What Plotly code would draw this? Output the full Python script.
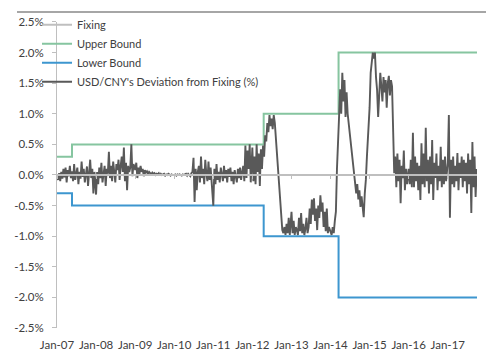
import pandas as pd
import plotly.graph_objects as go

# ---------------- data ----------------
dev_2007 = [-0.02, -0.08, 0.03, -0.10, 0.05, -0.06, 0.10, -0.04, 0.12, -0.12, 0.08, -0.02, 0.15, -0.05, 0.06, -0.10, 0.18, -0.08,
            0.02, 0.12, -0.15, 0.05, -0.06, 0.22, -0.03, 0.10, -0.12, 0.04, 0.14, -0.18, 0.08, 0.25, -0.05, 0.10, -0.30, 0.05]
dev_2008 = [-0.32, 0.05, -0.15, 0.12, -0.05, 0.20, -0.12, 0.08, 0.15, -0.18, 0.10, 0.02, 0.38, -0.05, 0.15, -0.10, 0.22, 0.05,
            -0.12, 0.18, 0.08, 0.25, -0.08, 0.15, 0.30, 0.05, 0.45, -0.10, 0.20, -0.25, 0.15, 0.05, 0.12, 0.50, -0.02, 0.18]
dev_2009 = [0.08, 0.20, -0.05, 0.12, 0.02, 0.15, 0.05, 0.10, -0.02, 0.08, 0.04, 0.06, 0.02, 0.05, 0.03, 0.01, 0.04, 0.02,
            0.03, 0.00, 0.02, 0.01, 0.03, -0.01, 0.02, 0.00, 0.01, 0.02, -0.01, 0.01, 0.00, 0.02, 0.01, -0.01, 0.01, 0.00]
dev_2010 = [0.00, 0.01, -0.01, 0.01, 0.00, 0.01, 0.00, -0.01, 0.01, 0.00, 0.01, 0.02, -0.01, 0.02, 0.00, -0.02, 0.03, 0.05,
            0.28, -0.44, 0.10, -0.25, 0.05, 0.15, -0.12, 0.30, -0.05, 0.10, -0.15, 0.25, 0.02, -0.10, 0.22, -0.08, 0.12, -0.20]
dev_2011 = [-0.50, 0.10, -0.15, 0.18, -0.08, 0.05, -0.12, 0.12, 0.02, -0.10, 0.15, -0.05, 0.08, -0.12, 0.10, -0.03, 0.12, -0.10,
            0.05, -0.15, 0.08, 0.00, -0.12, 0.10, -0.05, 0.12, -0.08, 0.05, 0.15, -0.10, 0.48, -0.05, 0.40, 0.10, 0.50, -0.12]
dev_2012 = [0.45, -0.10, 0.30, -0.15, 0.50, 0.05, 0.35, -0.18, 0.42, 0.10, 0.48,
            0.30, 0.65, 0.55, 0.85, 0.70, 0.98, 0.80, 0.92, 0.75, 0.98, 0.85, 0.60,
            0.35, 0.10, -0.20, -0.45, -0.70, -0.90, -0.95, -0.85, -0.98, -0.80, -0.95, -0.70, -0.98]
dev_2013 = [-0.60, -0.95, -0.75, -0.98, -0.85, -0.90, -0.98, -0.70, -0.92, -0.62, -0.95, -0.80, -0.98, -0.88, -0.70, -0.95, -0.85, -0.55,
            -0.80, -0.40, -0.65, -0.38, -0.75, -0.55, -0.90, -0.50, -0.70, -0.33, -0.60, -0.45, -0.85, -0.60, -0.92, -0.55, -0.95, -0.85]
dev_2014 = [-0.95, -0.98, -0.85, -0.95, -0.75, -0.60,
            0.10, 0.60,
            1.10, 1.40, 1.00, 1.67, 1.20, 1.55, 0.95, 1.35,
            1.00, 0.85, 0.70, 0.55, 0.40, 0.20, 0.00,
            -0.08, -0.30, -0.15, -0.40, -0.25, -0.52, -0.35, -0.60, -0.69, -0.30,
            -0.08, 0.30, 0.57]
dev_2015 = [1.10, 1.67, 1.85, 2.00,
            1.90, 2.00, 1.60, 1.39, 0.95,
            1.30, 1.67, 1.45, 1.20, 1.60, 1.35, 1.55, 1.10, 1.50, 1.62, 1.30, 1.55, 1.45,
            0.40,
            0.03, 0.30, -0.20, 0.35, -0.10, 0.25, -0.46, 0.15, -0.05, 0.40, -0.25, 0.10, -0.15]
dev_2016 = [0.10, -0.15, 0.25, -0.20, 0.69, -0.20, 0.30, -0.10, 0.20, -0.25, 0.15, -0.41, 0.52, -0.15, 0.35, -0.20, 0.77, -0.10,
            0.25, -0.30, 0.30, -0.15, 0.57, -0.41, 0.20, -0.05, 0.35, -0.25, 0.15, -0.10, 0.46, -0.20, 0.25, -0.15, 0.30, -0.10]
dev_2017 = [0.20, 0.98, -0.70, 0.25, -0.15, 0.30, -0.20, 0.15, -0.10, 0.36, -0.25, 0.20, -0.05, 0.30,
            -0.20, 0.25, -0.10, 0.20, -0.30, 0.35, -0.15, 0.25, -0.62, 0.54, -0.20, 0.30, -0.36, 0.10]

band_dates = ["2007-01-01", "2007-05-21", "2012-04-16", "2014-03-17", "2017-10-01"]
upper_bound = [0.3, 0.5, 1.0, 2.0, 2.0]
lower_bound = [-0.3, -0.5, -1.0, -2.0, -2.0]
fixing_dates = ["2007-01-01", "2017-10-01"]
fixing = [0.0, 0.0]

x_tick_dates = [f"{y}-01-01" for y in range(2007, 2018)]
x_tick_labels = ["Jan-07", "Jan-08", "Jan-09", "Jan-10", "Jan-11", "Jan-12",
                 "Jan-13", "Jan-14", "Jan-15", "Jan-16", "Jan-17"]
y_tick_vals = [2.5, 2.0, 1.5, 1.0, 0.5, 0.0, -0.5, -1.0, -1.5, -2.0, -2.5]
y_tick_labels = ["2.5%", "2.0%", "1.5%", "1.0%", "0.5%", "0.0%", "-0.5%", "-1.0%", "-1.5%", "-2.0%", "-2.5%"]

yearly = {2007: dev_2007, 2008: dev_2008, 2009: dev_2009, 2010: dev_2010, 2011: dev_2011, 2012: dev_2012,
          2013: dev_2013, 2014: dev_2014, 2015: dev_2015, 2016: dev_2016, 2017: dev_2017}
dev_dates, dev_vals = [], []
for yr, vals in yearly.items():
    dev_dates += list(pd.date_range(f"{yr}-01-01", periods=len(vals), freq="10D"))
    dev_vals += vals

FONT = "Lato, Liberation Sans, Arial, sans-serif"
TXT = "#404040"
X_DOMAIN = [0.0846, 0.9725]
Y_DOMAIN = [0.0, 0.9623]

fig = go.Figure()
fig.add_trace(go.Scatter(x=fixing_dates, y=fixing, name="Fixing", mode="lines",
                         line=dict(color="#BFBFBF", width=2), xaxis="x2"))
fig.add_trace(go.Scatter(x=band_dates, y=upper_bound, name="Upper Bound", mode="lines",
                         line=dict(color="#86C5A0", width=2, shape="hv")))
fig.add_trace(go.Scatter(x=band_dates, y=lower_bound, name="Lower Bound", mode="lines",
                         line=dict(color="#3D96CF", width=2, shape="hv")))
fig.add_trace(go.Scatter(x=dev_dates, y=dev_vals, name="USD/CNY's Deviation from Fixing (%)", mode="lines",
                         line=dict(color="#595959", width=1.9)))

# the page body keeps an 8px browser margin, so the figure is sized to fit inside it
fig.update_layout(
    width=486, height=344,
    margin=dict(l=9, r=4, t=2, b=24, autoexpand=False),
    paper_bgcolor="white", plot_bgcolor="white",
    font=dict(family=FONT, color=TXT, size=11),
    showlegend=True,
    legend=dict(x=0.0423, y=0.999, xanchor="left", yanchor="top", bgcolor="rgba(0,0,0,0)",
                font=dict(size=11, color=TXT), itemwidth=30, tracegroupgap=0),
    xaxis=dict(type="date", domain=X_DOMAIN, range=["2007-01-01", "2017-10-01"], tickvals=x_tick_dates,
               ticktext=x_tick_labels, showgrid=False, zeroline=False, showline=False, ticks="",
               ticklabelstandoff=8, tickfont=dict(size=11.5, color=TXT), automargin=False),
    xaxis2=dict(type="date", domain=X_DOMAIN, matches="x", overlaying="x", anchor="free",
                position=Y_DOMAIN[1] / 2, tickvals=x_tick_dates, showticklabels=False, ticks="outside",
                ticklen=3, tickcolor="#BFBFBF", showgrid=False, zeroline=False, showline=False,
                automargin=False),
    yaxis=dict(domain=Y_DOMAIN, range=[-2.5, 2.5], tickvals=y_tick_vals, ticktext=y_tick_labels,
               showgrid=False, zeroline=False, showline=True, linecolor="#BFBFBF", linewidth=1,
               ticks="outside", ticklen=4, tickcolor="#BFBFBF", ticklabelstandoff=6,
               tickfont=dict(size=11.5, color=TXT), automargin=False),
    shapes=[dict(type="line", xref="paper", yref="paper", x0=0.0, x1=1.0, y0=0.9937, y1=0.9937,
                 layer="above", line=dict(color="#A6A6A6", width=2))],
)

fig.write_html("out.html")
